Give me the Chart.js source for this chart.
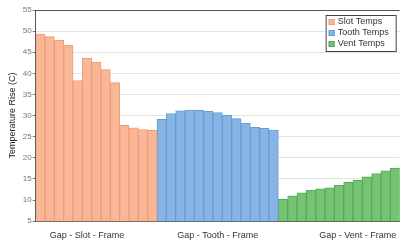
<!DOCTYPE html>
<html>
<head>
<meta charset="utf-8">
<script src="https://cdn.jsdelivr.net/npm/chart.js@4/dist/chart.umd.min.js"></script>
<style>
  html, body { margin: 0; padding: 0; background: #fff; }
  #wrap { width: 404px; height: 246px; }
</style>
</head>
<body>
<div id="wrap"><canvas id="barChart" width="404" height="246"></canvas></div>
<script>
const groups = ['Gap - Slot - Frame', 'Gap - Tooth - Frame', 'Gap - Vent - Frame'];
const labelAt = [5, 19, 34];
const seriesNames = ['Slot Temps', 'Tooth Temps', 'Vent Temps'];
const slotTemps = [49.3, 48.7, 47.8, 46.7, 38.3, 43.6, 42.7, 40.9, 37.8, 27.7, 27.1, 26.7, 26.5];
const toothTemps = [29.1, 30.5, 31.1, 31.3, 31.3, 31.0, 30.7, 30.1, 29.3, 28.2, 27.2, 27.0, 26.6];
const ventTemps = [10.2, 11.0, 11.7, 12.3, 12.65, 12.9, 13.5, 14.2, 14.7, 15.5, 16.3, 16.9, 17.6];
const yTicks = [5, 10, 15, 20, 25, 30, 35, 40, 45, 50, 55];

const categories = [];
groups.forEach(g => { for (let i = 0; i < 13; i++) categories.push(g); });

const pad = n => Array(n).fill(null);
const slotData = slotTemps.concat(pad(26));
const toothData = pad(13).concat(toothTemps, pad(13));
const ventData = pad(26).concat(ventTemps);

// legend with a border, drawn inside the plot area
const boxLegend = {
  id: 'boxLegend',
  afterDraw(chart) {
    const c = chart.ctx;
    const area = chart.chartArea;
    const w = 70, h = 36;
    const x = area.right - w - 4, y = area.top + 5;
    c.save();
    c.fillStyle = '#fff';
    c.fillRect(x, y, w, h);
    c.strokeStyle = '#444';
    c.lineWidth = 1;
    c.strokeRect(x + 0.5, y + 0.5, w, h);
    c.font = '9px "Liberation Sans", Arial, sans-serif';
    c.textBaseline = 'middle';
    chart.data.datasets.forEach((ds, i) => {
      const ly = y + 7 + i * 11;
      c.fillStyle = ds.backgroundColor;
      c.fillRect(x + 3, ly - 3, 6, 6);
      c.strokeStyle = ds.borderColor;
      c.strokeRect(x + 3.5, ly - 2.5, 5, 5);
      c.fillStyle = '#333';
      c.fillText(ds.label, x + 12, ly);
    });
    c.restore();
  }
};

new Chart(document.getElementById('barChart'), {
  type: 'bar',
  data: {
    labels: categories,
    datasets: [
      { label: seriesNames[0], data: slotData, backgroundColor: '#F9B797', borderColor: '#EE9C74' },
      { label: seriesNames[1], data: toothData, backgroundColor: '#86B4E5', borderColor: '#6A9BD3' },
      { label: seriesNames[2], data: ventData, backgroundColor: '#74C474', borderColor: '#56A956' }
    ]
  },
  options: {
    responsive: false,
    animation: false,
    layout: { padding: { top: 10, right: -3, left: 7, bottom: -4 } },
    datasets: {
      bar: { grouped: false, barPercentage: 1, categoryPercentage: 1, borderWidth: 1 }
    },
    plugins: {
      legend: { display: false },
      tooltip: { enabled: false }
    },
    scales: {
      x: {
        grid: { display: false, drawTicks: false },
        border: { display: true, color: '#555' },
        ticks: {
          autoSkip: false,
          maxRotation: 0,
          minRotation: 0,
          padding: 9,
          color: '#333',
          font: { family: '"Liberation Sans", Arial, sans-serif', size: 9 },
          callback: (v, i) => labelAt.includes(i) ? categories[i] : ''
        }
      },
      y: {
        min: 5,
        max: 55,
        afterBuildTicks: axis => { axis.ticks = yTicks.map(v => ({ value: v })); },
        grid: {
          color: ctx => ctx.tick && ctx.tick.value === 55 ? '#555' : '#e2e2e2',
          tickColor: '#777',
          tickLength: 3
        },
        border: { display: true, color: '#555' },
        ticks: {
          padding: 1,
          color: '#777',
          font: { family: '"Liberation Sans", Arial, sans-serif', size: 8 }
        },
        title: {
          display: true,
          text: 'Temperature Rise (C)',
          color: '#222',
          padding: { top: 0, bottom: 4 },
          font: { family: '"Liberation Sans", Arial, sans-serif', size: 9 }
        }
      }
    }
  },
  plugins: [boxLegend]
});
</script>
</body>
</html>
